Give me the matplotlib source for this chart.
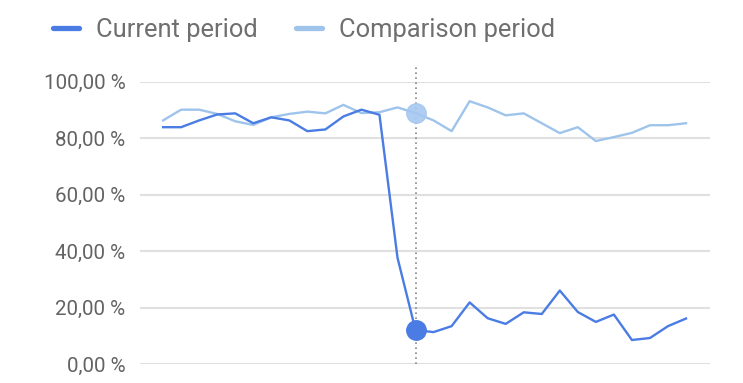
import matplotlib
matplotlib.use("Agg")
import matplotlib.pyplot as plt
import numpy as np

plt.rcParams['font.family'] = ['Roboto', 'DejaVu Sans']

# values (percent)
current = [83.9, 83.9, 86.3, 88.4, 88.8, 85.3, 87.4, 86.3, 82.5, 83.1,
           87.7, 90.1, 88.3, 37.7, 12.1, 11.4, 13.5, 21.9, 16.3, 14.3,
           18.4, 17.8, 26.1, 18.5, 15.0, 17.6, 8.6, 9.3, 13.5, 16.2]
comparison = [86.3, 90.1, 90.1, 88.6, 86.0, 84.7, 87.4, 88.6, 89.4, 88.8,
              91.8, 88.9, 89.2, 90.9, 88.9, 86.3, 82.5, 93.1, 90.9, 88.1,
              88.8, 85.3, 81.8, 83.9, 79.0, 80.4, 81.9, 84.6, 84.6, 85.3]
labels = ['Current period', 'Comparison period']
yticks = [0, 20, 40, 60, 80, 100]
highlight = 14

c_cur = '#4a7ce3'
c_cmp = '#9fc4ec'

x = np.arange(len(current))

fig = plt.figure(figsize=(7.43, 3.83), dpi=100)
ax = fig.add_axes([140/743, 18.7/383, 570/743, 282.6/383])

for y in yticks:
    ax.axhline(y, color='#e0e0e0', lw=1.5, zorder=0)

ax.plot(x, comparison, color=c_cmp, lw=1.7, label=labels[1], zorder=2)
ax.plot(x, current, color=c_cur, lw=1.7, label=labels[0], zorder=3)

ax.vlines(highlight, 0, 106, colors='#888888', linestyles=(0, (1, 2)),
          lw=1.2, clip_on=False, zorder=1)
ax.plot(highlight, comparison[highlight], 'o', ms=14, color='#a6c8f0',
        alpha=0.9, zorder=4, clip_on=False)
ax.plot(highlight, current[highlight], 'o', ms=14, color=c_cur, zorder=5,
        clip_on=False)

ax.set_xlim(-1.28, 30.33)
ax.set_ylim(0, 100)
ax.set_yticks(yticks)
ax.set_yticklabels([('%.2f' % v).replace('.', ',') + ' %' for v in yticks])
ax.tick_params(axis='y', length=0, pad=10.5, labelsize=14.8, labelcolor='#636363')
ax.set_xticks([])
for s in ax.spines.values():
    s.set_visible(False)

h1, = ax.plot([], [], color=c_cur, lw=3.8, solid_capstyle='round')
h2, = ax.plot([], [], color=c_cmp, lw=3.8, solid_capstyle='round')
leg = fig.legend([h1, h2], labels, loc='center left',
                 bbox_to_anchor=(53/743, 1 - 30/383), ncol=2, frameon=False,
                 fontsize=18.4, handlelength=1.0, handletextpad=0.68,
                 columnspacing=1.5, borderpad=0, borderaxespad=0)
for t in leg.get_texts():
    t.set_color('#6f6f6f')

fig.savefig('out.png', dpi=100)
